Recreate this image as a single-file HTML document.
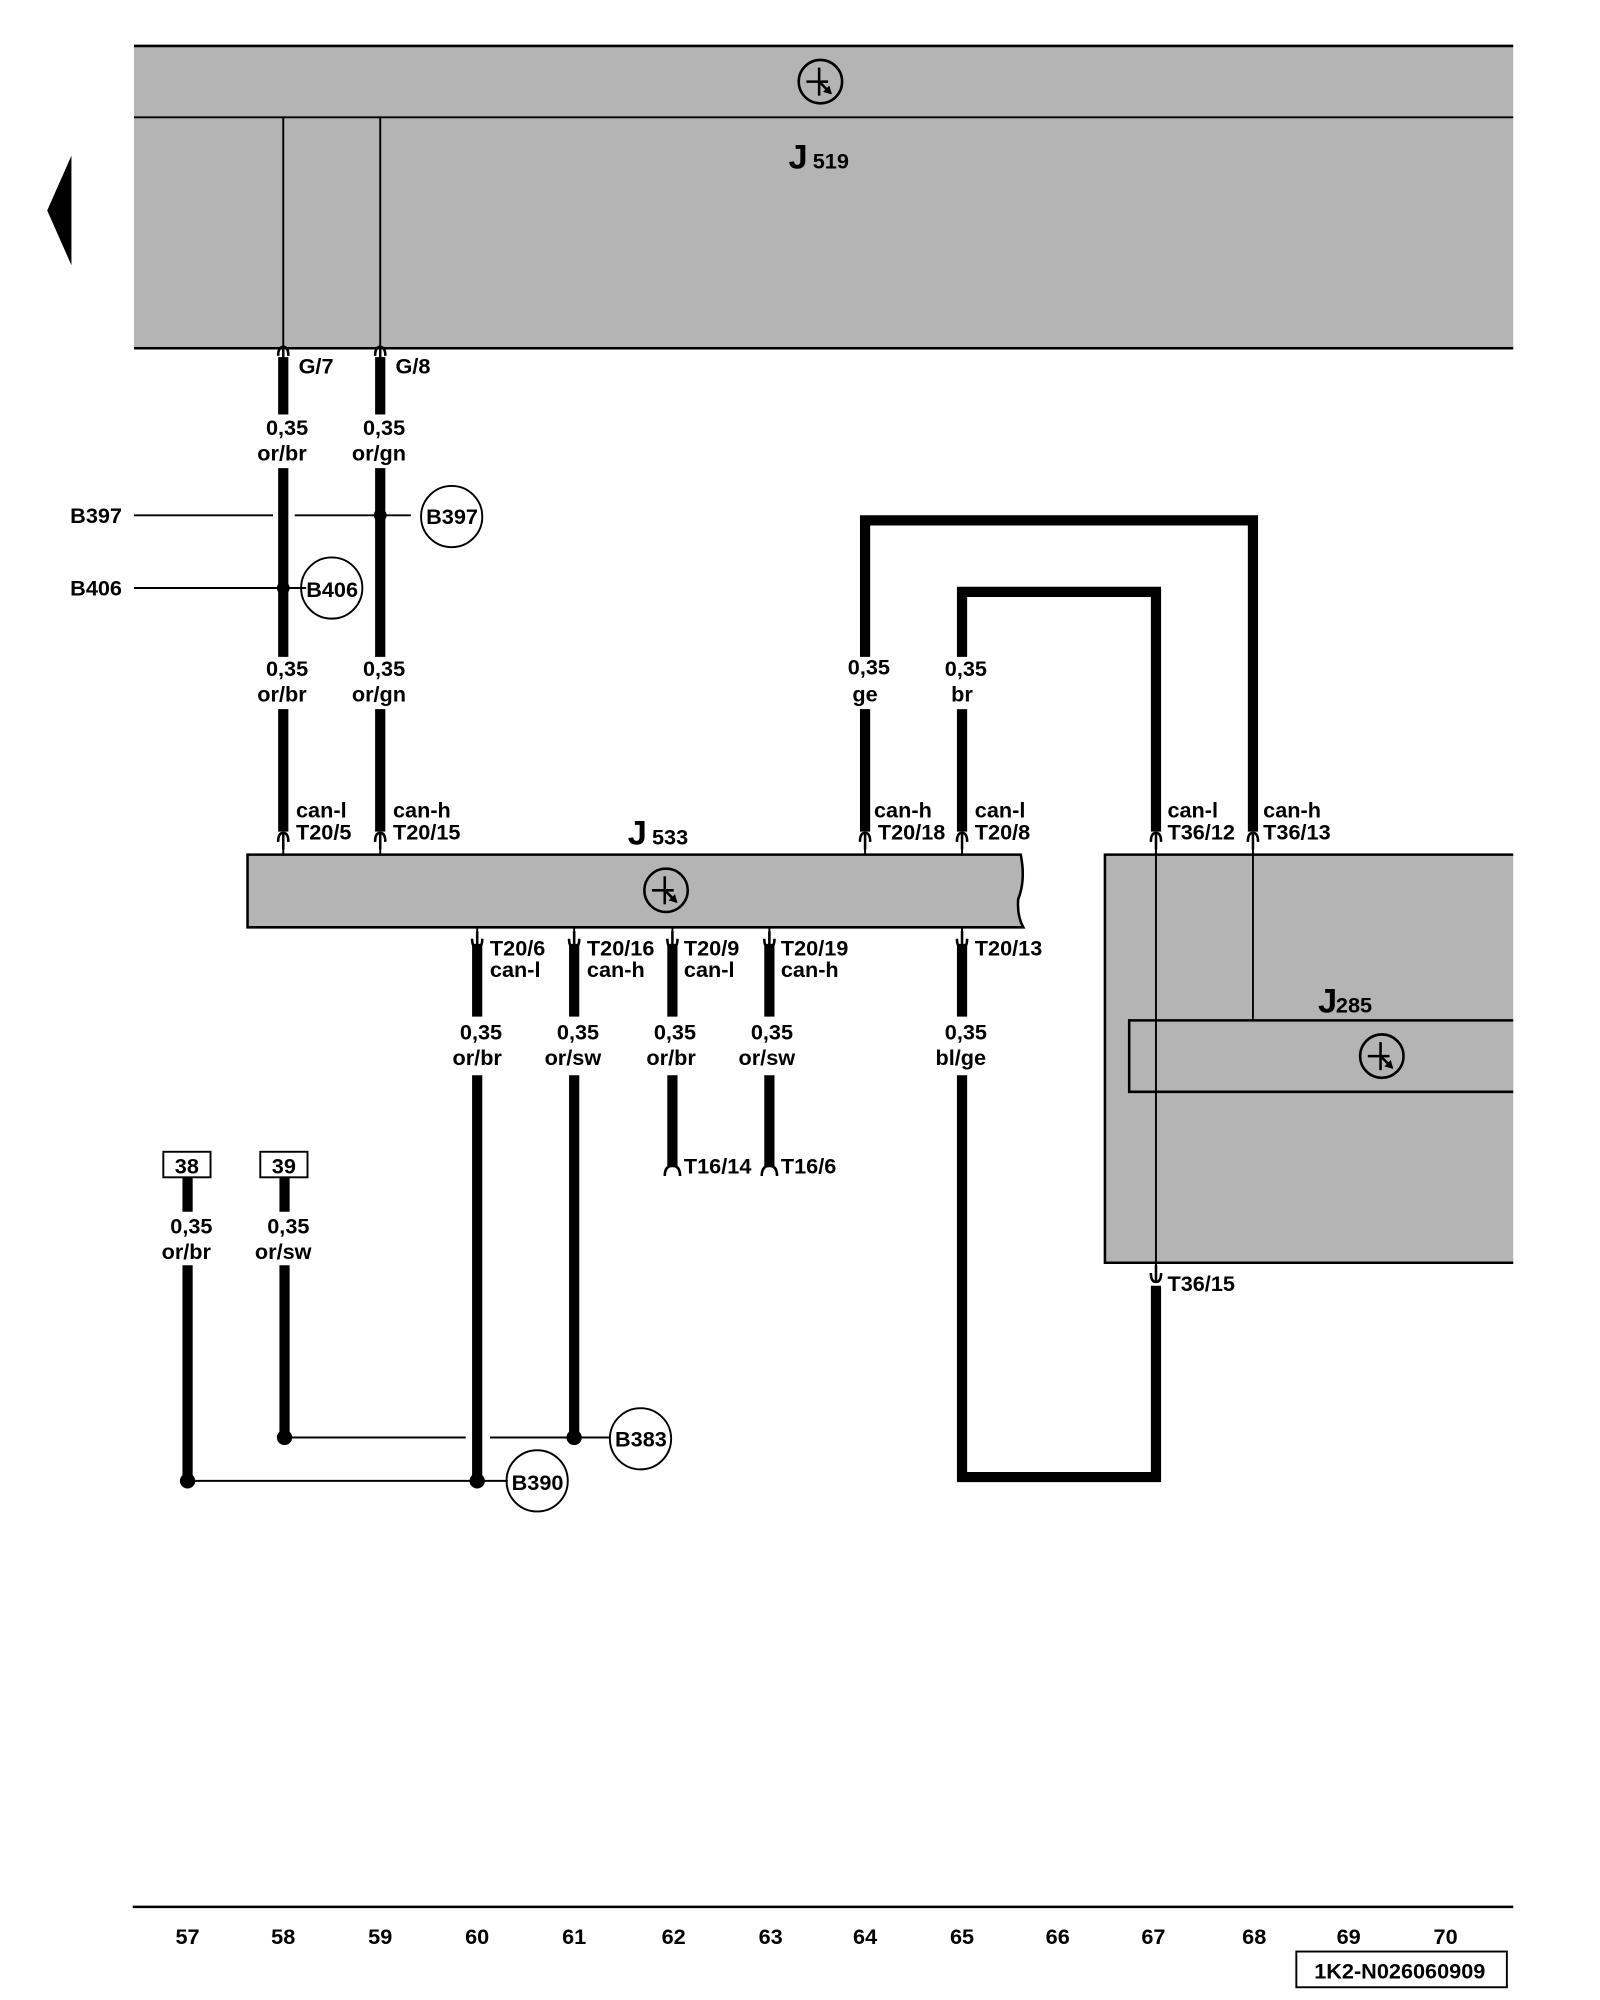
<!DOCTYPE html>
<html><head><meta charset="utf-8"><style>
html,body{margin:0;padding:0;background:#fff;}
svg{display:block;}
text{font-family:"Liberation Sans",Arial,sans-serif;font-size:17px;font-weight:bold;fill:#000;}
</style></head><body>
<svg width="1600" height="2000" viewBox="0 0 1254 1568" preserveAspectRatio="none" xmlns="http://www.w3.org/2000/svg">
<defs>
<g id="sym"><circle r="17" fill="none" stroke="#000" stroke-width="2"/><line x1="-11" y1="0" x2="6" y2="0" stroke="#000" stroke-width="2"/><line x1="-1" y1="-11" x2="-1" y2="11" stroke="#000" stroke-width="2"/><line x1="-1" y1="0" x2="8" y2="9" stroke="#000" stroke-width="2"/><polygon points="9,10 2,8 7,3" fill="#000"/></g>
<g id="pu"><path d="M-4,4 Q-4,-3 0,-3 Q4,-3 4,4" fill="none" stroke="#000" stroke-width="2"/><line x1="0" y1="-3" x2="0" y2="10" stroke="#000" stroke-width="2"/></g>
<g id="pd"><path d="M-4,-4 Q-4,3 0,3 Q4,3 4,-4" fill="none" stroke="#000" stroke-width="2"/><line x1="0" y1="3" x2="0" y2="-10" stroke="#000" stroke-width="2"/></g>
</defs>
<rect x="105" y="36" width="1081" height="237" fill="#b4b4b4"/>
<line x1="105" y1="36" x2="1186" y2="36" stroke="#000" stroke-width="2"/>
<line x1="105" y1="92" x2="1186" y2="92" stroke="#000" stroke-width="1.5"/>
<line x1="105" y1="273" x2="1186" y2="273" stroke="#000" stroke-width="2"/>
<use href="#sym" x="643" y="64"/>
<text x="618" y="132" style="font-size:27px">J</text><text x="637" y="132">519</text>
<polygon points="56,122 37,165 56,208" fill="#000"/>
<line x1="222" y1="92" x2="222" y2="273" stroke="#000" stroke-width="1.5"/>
<line x1="298" y1="92" x2="298" y2="273" stroke="#000" stroke-width="1.5"/>
<use href="#pu" x="222" y="275"/><use href="#pu" x="298" y="275"/>
<g stroke="#000" stroke-width="8" fill="none">
<line x1="222" y1="280" x2="222" y2="325"/><line x1="222" y1="367" x2="222" y2="515"/><line x1="222" y1="556" x2="222" y2="652"/>
<line x1="298" y1="280" x2="298" y2="325"/><line x1="298" y1="367" x2="298" y2="515"/><line x1="298" y1="556" x2="298" y2="652"/>
<path d="M678,515 V408 H982 V652"/><path d="M678,556 V652"/>
<path d="M754,515 V464 H906 V652"/><path d="M754,556 V652"/>
<path d="M374,740 V797 M374,843 V1161"/>
<path d="M450,740 V797 M450,843 V1127"/>
<path d="M527,740 V797 M527,843 V915"/>
<path d="M603,740 V797 M603,843 V915"/>
<path d="M754,740 V797 M754,843 V1158 H906 V1008"/>
<path d="M147,923 V950 M147,992 V1161"/>
<path d="M223,923 V950 M223,992 V1127"/>
</g>
<text x="234" y="293">G/7</text><text x="310" y="293">G/8</text>
<g text-anchor="middle">
<text x="225" y="341">0,35</text><text x="221" y="361">or/br</text>
<text x="301" y="341">0,35</text><text x="297" y="361">or/gn</text>
<text x="225" y="530">0,35</text><text x="221" y="550">or/br</text>
<text x="301" y="530">0,35</text><text x="297" y="550">or/gn</text>
<text x="681" y="529">0,35</text><text x="678" y="550">ge</text>
<text x="757" y="530">0,35</text><text x="754" y="550">br</text>
<text x="377" y="815">0,35</text><text x="374" y="835">or/br</text>
<text x="453" y="815">0,35</text><text x="449" y="835">or/sw</text>
<text x="529" y="815">0,35</text><text x="526" y="835">or/br</text>
<text x="605" y="815">0,35</text><text x="601" y="835">or/sw</text>
<text x="757" y="815">0,35</text><text x="753" y="835">bl/ge</text>
<text x="150" y="967">0,35</text><text x="146" y="987">or/br</text>
<text x="226" y="967">0,35</text><text x="222" y="987">or/sw</text>
</g>
<g stroke="#000" stroke-width="1.5" fill="none">
<line x1="105" y1="404" x2="214" y2="404"/><line x1="231" y1="404" x2="322" y2="404"/>
<line x1="105" y1="461" x2="240" y2="461"/>
<circle cx="354" cy="405" r="24"/><circle cx="260" cy="461" r="24"/>
<line x1="223" y1="1127" x2="365" y2="1127"/><line x1="384" y1="1127" x2="478" y2="1127"/>
<line x1="147" y1="1161" x2="398" y2="1161"/>
<circle cx="502" cy="1128" r="24"/><circle cx="421" cy="1161" r="24"/>
</g>
<circle cx="298" cy="404" r="5"/><circle cx="222" cy="461" r="5"/>
<circle cx="223" cy="1127" r="6"/><circle cx="450" cy="1127" r="6"/>
<circle cx="147" cy="1161" r="6"/><circle cx="374" cy="1161" r="6"/>
<text x="55" y="410">B397</text><text x="55" y="467">B406</text>
<text x="334" y="411">B397</text><text x="240" y="468">B406</text>
<text x="482" y="1134">B383</text><text x="401" y="1168">B390</text>
<path d="M194,670 H800 Q804,690 798,705 Q797,718 802,727 H194 Z" fill="#b4b4b4" stroke="#000" stroke-width="2"/>
<use href="#sym" x="522" y="698"/>
<text x="492" y="662" style="font-size:27px">J</text><text x="511" y="662">533</text>
<g stroke="#000" stroke-width="1.5"><line x1="222" y1="656" x2="222" y2="670"/><line x1="298" y1="656" x2="298" y2="670"/><line x1="678" y1="656" x2="678" y2="670"/><line x1="754" y1="656" x2="754" y2="670"/></g>
<use href="#pu" x="222" y="656"/><use href="#pu" x="298" y="656"/><use href="#pu" x="678" y="656"/><use href="#pu" x="754" y="656"/>
<use href="#pu" x="906" y="656"/><use href="#pu" x="982" y="656"/>
<text x="232" y="641">can-l</text><text x="232" y="658">T20/5</text>
<text x="308" y="641">can-h</text><text x="308" y="658">T20/15</text>
<text x="685" y="641">can-h</text><text x="688" y="658">T20/18</text>
<text x="764" y="641">can-l</text><text x="764" y="658">T20/8</text>
<text x="915" y="641">can-l</text><text x="915" y="658">T36/12</text>
<text x="990" y="641">can-h</text><text x="990" y="658">T36/13</text>
<g stroke="#000" stroke-width="1.5"><line x1="374" y1="727" x2="374" y2="740"/><line x1="450" y1="727" x2="450" y2="740"/><line x1="527" y1="727" x2="527" y2="740"/><line x1="603" y1="727" x2="603" y2="740"/><line x1="754" y1="727" x2="754" y2="740"/></g>
<use href="#pd" x="374" y="740"/><use href="#pd" x="450" y="740"/><use href="#pd" x="527" y="740"/><use href="#pd" x="603" y="740"/><use href="#pd" x="754" y="740"/>
<text x="384" y="749">T20/6</text><text x="384" y="766">can-l</text>
<text x="460" y="749">T20/16</text><text x="460" y="766">can-h</text>
<text x="536" y="749">T20/9</text><text x="536" y="766">can-l</text>
<text x="612" y="749">T20/19</text><text x="612" y="766">can-h</text>
<text x="764" y="749">T20/13</text>
<path d="M521,922 Q521,914 527,914 Q533,914 533,922 M597,922 Q597,914 603,914 Q609,914 609,922" fill="none" stroke="#000" stroke-width="2"/>
<text x="536" y="920">T16/14</text><text x="612" y="920">T16/6</text>
<rect x="866" y="670" width="320" height="320" fill="#b4b4b4"/>
<path d="M1186,670 H866 V990 H1186" fill="none" stroke="#000" stroke-width="2"/>
<path d="M1186,800 H885 V856 H1186" fill="#b4b4b4" stroke="#000" stroke-width="2"/>
<use href="#sym" x="1083" y="828"/>
<text x="1033" y="794" style="font-size:27px">J</text><text x="1047" y="794">285</text>
<line x1="906" y1="660" x2="906" y2="998" stroke="#000" stroke-width="1.5"/>
<line x1="982" y1="660" x2="982" y2="800" stroke="#000" stroke-width="1.5"/>
<use href="#pd" x="906" y="1002"/>
<text x="915" y="1012">T36/15</text>
<rect x="128" y="903" width="37" height="20" fill="#fff" stroke="#000" stroke-width="1.5"/>
<rect x="204" y="903" width="37" height="20" fill="#fff" stroke="#000" stroke-width="1.5"/>
<text x="137" y="920">38</text><text x="213" y="920">39</text>
<line x1="104" y1="1495" x2="1186" y2="1495" stroke="#000" stroke-width="2"/>
<g text-anchor="middle">
<text x="147" y="1524">57</text><text x="222" y="1524">58</text><text x="298" y="1524">59</text><text x="374" y="1524">60</text><text x="450" y="1524">61</text><text x="528" y="1524">62</text><text x="604" y="1524">63</text><text x="678" y="1524">64</text><text x="754" y="1524">65</text><text x="829" y="1524">66</text><text x="904" y="1524">67</text><text x="983" y="1524">68</text><text x="1057" y="1524">69</text><text x="1133" y="1524">70</text>
</g>
<rect x="1016" y="1530" width="165" height="28" fill="#fff" stroke="#000" stroke-width="1.5"/>
<text x="1030" y="1551">1K2-N026060909</text>
</svg>
</body></html>
